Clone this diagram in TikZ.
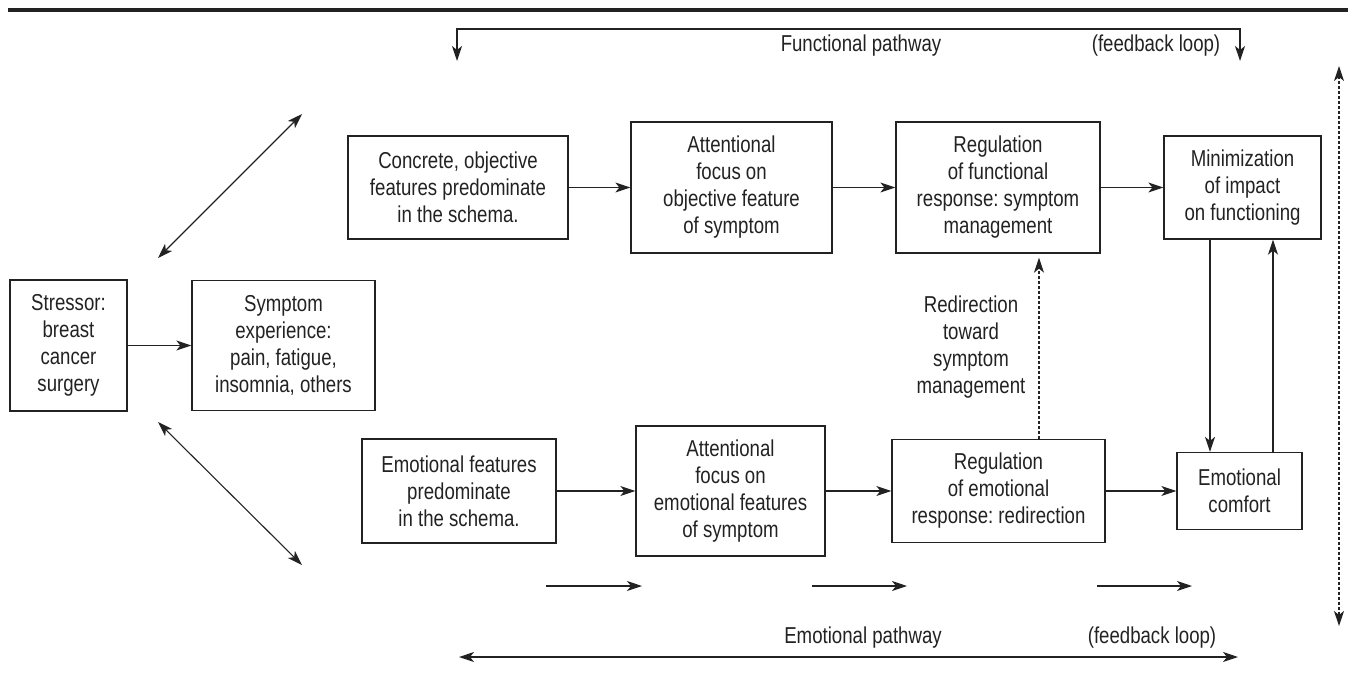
\documentclass[tikz,border=0pt]{standalone}
\usepackage{fontspec}
\setmainfont[FakeStretch=0.81]{Liberation Sans}
\usetikzlibrary{arrows.meta}
\definecolor{ink}{HTML}{222222}
\newcommand\diagfont{\fontsize{23}{27}\selectfont\frenchspacing}
\begin{document}
\begin{tikzpicture}[x=1pt,y=-1pt,
  box/.style={draw=ink, line width=1.3pt, inner sep=0pt, align=center, font=\diagfont, text=ink},
  lbl/.style={inner sep=0pt, align=center, font=\diagfont, text=ink},
  arr/.style={-{Stealth[length=15pt,width=10pt,inset=4pt]}, line width=1.3pt, draw=ink},
  darr/.style={{Stealth[length=15pt,width=10pt,inset=4pt]}-{Stealth[length=15pt,width=10pt,inset=4pt]}, line width=1.3pt, draw=ink},
  dotted line/.style={dash pattern=on 3pt off 2pt}]
\useasboundingbox (0,0) rectangle (1348,672);

% top rule
\coordinate (ruleL) at (8,10);
\coordinate (ruleR) at (1348,10);
\draw[ink, line width=3.5pt] (ruleL) -- (ruleR);

% boxes
\node[box, minimum width=117pt, minimum height=131pt] (stressor) at (68.5,345.5) {Stressor:\\breast\\cancer\\surgery};
\node[box, minimum width=183pt, minimum height=130pt] (symptom) at (283.5,345.5) {Symptom\\experience:\\pain, fatigue,\\insomnia, others};

\node[box, minimum width=220pt, minimum height=103pt] (concrete) at (458,187.5) {Concrete, objective\\features predominate\\in the schema.};
\node[box, minimum width=201pt, minimum height=131pt] (attF) at (731.5,187.5) {Attentional\\focus on\\objective feature\\of symptom};
\node[box, minimum width=204pt, minimum height=131pt] (regF) at (998,187.5) {Regulation\\of functional\\response: symptom\\management};
\node[box, minimum width=157pt, minimum height=103pt] (minF) at (1242.5,187.5) {Minimization\\of impact\\on functioning};

\node[box, minimum width=194pt, minimum height=104pt] (emoF) at (459,491) {Emotional features\\predominate\\in the schema.};
\node[box, minimum width=189pt, minimum height=130pt] (attE) at (730.5,491) {Attentional\\focus on\\emotional features\\of symptom};
\node[box, minimum width=213pt, minimum height=103pt] (regE) at (998.5,491) {Regulation\\of emotional\\response: redirection};
\node[box, minimum width=125pt, minimum height=77pt] (comfort) at (1239.5,491) {Emotional\\comfort};

\node[lbl] (redir) at (971,347) {Redirection\\toward\\symptom\\management};

% horizontal flow arrows
\draw[arr] (stressor.east) -- (symptom.west);
\draw[arr] (concrete.east) -- (attF.west);
\draw[arr] (attF.east) -- (regF.west);
\draw[arr] (regF.east) -- (minF.west);
\draw[arr] (emoF.east) -- (attE.west);
\draw[arr] (attE.east) -- (regE.west);
\draw[arr] (regE.east) -- (comfort.west);

% redirection dotted arrow
\coordinate (redx) at (1039,0);
\draw[arr, dotted line] (regE.north -| redx) -- ([yshift=-4pt]regF.south -| redx);

% min <-> comfort
\coordinate (downx) at (1210,0);
\coordinate (upx) at (1273,0);
\draw[arr] (minF.south -| downx) -- (comfort.north -| downx);
\draw[arr] (comfort.north -| upx) -- (minF.south -| upx);

% diagonal double arrows
\coordinate (d1a) at (158,258);
\coordinate (d1b) at (302,114);
\coordinate (d2a) at (158,422);
\coordinate (d2b) at (302,565);
\draw[darr, line width=1.1pt] (d1a) -- (d1b);
\draw[darr, line width=1.1pt] (d2a) -- (d2b);

% functional feedback loop
\coordinate (fTipL) at (457,61);
\coordinate (fCornerL) at (457,29);
\coordinate (fCornerR) at (1240,29);
\coordinate (fTipR) at (1240,61);
\draw[darr] (fTipL) -- (fCornerL) -- (fCornerR) -- (fTipR);
\node[lbl] (funcpath) at (861,46) {Functional pathway};
\node[lbl] (funcfb) at (1156,46) {(feedback loop)};

% right dotted double arrow
\coordinate (vTop) at (1339,66);
\coordinate (vBot) at (1339,626);
\draw[darr, dotted line] (vTop) -- (vBot);

% short arrows under emotional row
\coordinate (s1a) at (546,586);
\coordinate (s1b) at (642,586);
\coordinate (s2a) at (812,586);
\coordinate (s2b) at (907,586);
\coordinate (s3a) at (1097,586);
\coordinate (s3b) at (1192,586);
\draw[arr] (s1a) -- (s1b);
\draw[arr] (s2a) -- (s2b);
\draw[arr] (s3a) -- (s3b);

% emotional feedback loop
\coordinate (eL) at (459,657);
\coordinate (eR) at (1238,657);
\draw[darr] (eL) -- (eR);
\node[lbl] (emopath) at (863,638) {Emotional pathway};
\node[lbl] (emofb) at (1152,638) {(feedback loop)};
\end{tikzpicture}
\end{document}
